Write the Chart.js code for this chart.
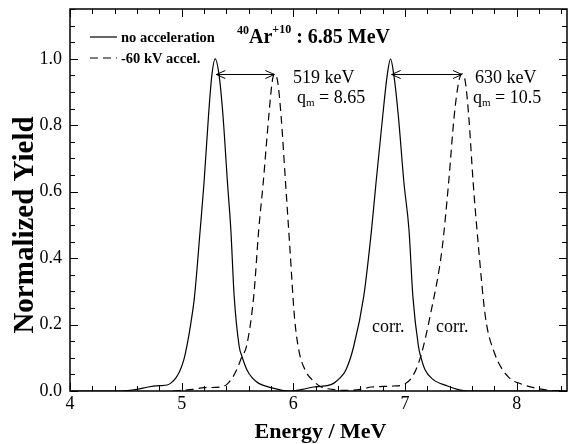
<!DOCTYPE html>
<html>
<head>
<meta charset="utf-8">
<title>40Ar+10 energy spectra</title>
<script src="https://cdn.jsdelivr.net/npm/chart.js@4.4.0/dist/chart.umd.min.js"></script>
<style>
  body { margin: 0; background: #fff; }
  #yield-chart { display: block; }
</style>
</head>
<body>
<canvas id="yield-chart" width="569" height="444"></canvas>
<script>
'use strict'

// Energy (MeV) and normalized yield
var noAccelEnergy = [4.0, 4.45, 4.6, 4.7, 4.8, 4.87, 4.9, 4.95, 4.987, 5.02, 5.046, 5.08, 5.115, 5.166, 5.2, 5.24, 5.27, 5.3, 5.335, 5.37, 5.41, 5.44, 5.47, 5.515, 5.54, 5.585, 5.63, 5.69, 5.8, 5.9, 5.97, 6.08, 6.18, 6.25, 6.3, 6.36, 6.42, 6.47, 6.54, 6.63, 6.7, 6.74, 6.8, 6.84, 6.87, 6.9, 6.94, 6.99, 7.035, 7.07, 7.12, 7.14, 7.18, 7.25, 7.38, 7.47, 7.56, 8.45]
var noAccelYield = [0, 0, 0.005, 0.012, 0.016, 0.018, 0.023, 0.04, 0.063, 0.095, 0.134, 0.2, 0.285, 0.486, 0.627, 0.828, 0.95, 1.0, 0.95, 0.828, 0.627, 0.486, 0.285, 0.134, 0.104, 0.063, 0.04, 0.023, 0.01, 0.002, 0, 0.005, 0.012, 0.014, 0.016, 0.023, 0.04, 0.063, 0.134, 0.285, 0.486, 0.627, 0.828, 0.95, 1.0, 0.95, 0.828, 0.627, 0.486, 0.285, 0.134, 0.104, 0.063, 0.035, 0.015, 0.005, 0, 0]

var accelEnergy = [4.92, 5.1, 5.2, 5.35, 5.405, 5.46, 5.5, 5.54, 5.58, 5.645, 5.69, 5.73, 5.78, 5.81, 5.83, 5.86, 5.89, 5.93, 5.97, 6.01, 6.05, 6.11, 6.18, 6.25, 6.35, 6.45, 6.6, 6.7, 6.9, 6.99, 7.065, 7.14, 7.23, 7.33, 7.39, 7.44, 7.48, 7.51, 7.54, 7.57, 7.61, 7.66, 7.72, 7.8, 7.92, 8.05, 8.15, 8.27, 8.4]
var accelYield = [0, 0.005, 0.01, 0.012, 0.02, 0.043, 0.07, 0.104, 0.134, 0.285, 0.486, 0.627, 0.828, 0.93, 0.955, 0.93, 0.828, 0.627, 0.424, 0.222, 0.121, 0.06, 0.03, 0.012, 0.005, 0.002, 0.005, 0.012, 0.015, 0.02, 0.043, 0.104, 0.235, 0.424, 0.627, 0.828, 0.93, 0.955, 0.93, 0.828, 0.627, 0.424, 0.222, 0.115, 0.044, 0.02, 0.01, 0.003, 0]

// Shift arrows: start (no accel. peak) -> end (accel. peak) at a given yield
var arrowStart = [5.31, 6.88]
var arrowEnd = [5.83, 7.51]
var arrowYield = 0.955

var xTicks = [4, 5, 6, 7, 8]
var yTicks = [0.0, 0.2, 0.4, 0.6, 0.8, 1.0]

var serif = '"Liberation Serif", "Times New Roman", serif'

function toPoints(xs, ys) {
  return xs.map(function (x, i) { return { x: x, y: ys[i] } })
}

// frame, inward ticks, arrows and all the annotation text
var annotatePlugin = {
  id: 'annotate',
  afterDraw: function (chart) {
    var ctx = chart.ctx
    var area = chart.chartArea
    var xs = chart.scales.x
    var ys = chart.scales.y
    var i, v, p, len

    ctx.save()
    ctx.strokeStyle = '#000'
    ctx.fillStyle = '#000'

    // frame
    ctx.lineWidth = 1.5
    ctx.strokeRect(area.left, area.top, area.right - area.left, area.bottom - area.top)

    // ticks pointing inside, on all four sides
    ctx.lineWidth = 1
    ctx.beginPath()
    for (i = 0; i <= 22; i++) {
      v = 4 + i * 0.2
      p = Math.round(xs.getPixelForValue(v)) + 0.5
      len = (i % 5 === 0) ? 8 : 5
      ctx.moveTo(p, area.bottom); ctx.lineTo(p, area.bottom - len)
      ctx.moveTo(p, area.top); ctx.lineTo(p, area.top + len)
    }
    for (i = 0; i <= 23; i++) {
      v = i * 0.05
      p = Math.round(ys.getPixelForValue(v)) + 0.5
      len = (i % 4 === 0) ? 8 : 5
      ctx.moveTo(area.left, p); ctx.lineTo(area.left + len, p)
      ctx.moveTo(area.right, p); ctx.lineTo(area.right - len, p)
    }
    ctx.stroke()

    // double headed arrows between the peaks
    var ay = Math.round(ys.getPixelForValue(arrowYield)) + 0.5
    for (i = 0; i < arrowStart.length; i++) {
      var x1 = xs.getPixelForValue(arrowStart[i])
      var x2 = xs.getPixelForValue(arrowEnd[i])
      ctx.beginPath()
      ctx.moveTo(x1, ay); ctx.lineTo(x2, ay)
      ctx.moveTo(x1 + 9, ay - 4); ctx.lineTo(x1, ay); ctx.lineTo(x1 + 9, ay + 4)
      ctx.moveTo(x2 - 9, ay - 4); ctx.lineTo(x2, ay); ctx.lineTo(x2 - 9, ay + 4)
      ctx.stroke()
    }

    // legend
    ctx.lineWidth = 1.2
    ctx.beginPath()
    ctx.moveTo(90, 37); ctx.lineTo(117, 37)
    ctx.stroke()
    ctx.setLineDash([8, 5])
    ctx.beginPath()
    ctx.moveTo(90, 58); ctx.lineTo(117, 58)
    ctx.stroke()
    ctx.setLineDash([])

    ctx.textBaseline = 'alphabetic'
    ctx.textAlign = 'left'
    ctx.font = 'bold 14.5px ' + serif
    ctx.fillText('no acceleration', 121, 42)
    ctx.fillText('-60 kV accel.', 121, 63)

    // title with superscripts
    var tx = 237
    ctx.font = 'bold 12px ' + serif
    ctx.fillText('40', tx, 34)
    tx += ctx.measureText('40').width
    ctx.font = 'bold 20px ' + serif
    ctx.fillText('Ar', tx, 43)
    tx += ctx.measureText('Ar').width
    ctx.font = 'bold 12px ' + serif
    ctx.fillText('+10', tx, 33)
    tx += ctx.measureText('+10').width
    ctx.font = 'bold 20px ' + serif
    ctx.fillText(' : 6.85 MeV', tx, 43)

    // shift labels
    ctx.font = '18px ' + serif
    ctx.fillText('519 keV', 293, 83)
    ctx.fillText('630 keV', 475, 83)
    drawQm(ctx, '8.65', 297, 103)
    drawQm(ctx, '10.5', 473, 103)
    ctx.font = '18px ' + serif
    ctx.fillText('corr.', 372, 332)
    ctx.fillText('corr.', 436, 332)

    // axis titles
    ctx.textAlign = 'center'
    ctx.font = 'bold 22px ' + serif
    ctx.fillText('Energy / MeV', (area.left + area.right) / 2 + 2, 438)
    ctx.translate(33, 225)
    ctx.rotate(-Math.PI / 2)
    ctx.font = 'bold 29px ' + serif
    ctx.fillText('Normalized Yield', 0, 0)

    ctx.restore()
  }
}

function drawQm(ctx, value, x, y) {
  ctx.textAlign = 'left'
  ctx.font = '18px ' + serif
  ctx.fillText('q', x, y)
  x += ctx.measureText('q').width
  ctx.font = '11px ' + serif
  ctx.fillText('m', x, y + 3)
  x += ctx.measureText('m').width
  ctx.font = '18px ' + serif
  ctx.fillText(' = ' + value, x, y)
}

var yieldChartCanvas = document.getElementById('yield-chart').getContext('2d')

var yieldChart = new Chart(yieldChartCanvas, {
  type: 'scatter',
  data: {
    datasets: [
      {
        label: 'no acceleration',
        data: toPoints(noAccelEnergy, noAccelYield),
        showLine: true,
        borderColor: '#000',
        borderWidth: 1.2,
        pointRadius: 0,
        cubicInterpolationMode: 'monotone',
        fill: false
      },
      {
        label: '-60 kV accel.',
        data: toPoints(accelEnergy, accelYield),
        showLine: true,
        borderColor: '#000',
        borderWidth: 1.2,
        borderDash: [8, 5],
        pointRadius: 0,
        cubicInterpolationMode: 'monotone',
        fill: false
      }
    ]
  },
  options: {
    responsive: false,
    animation: false,
    layout: { padding: { top: 9, right: 2, left: 0, bottom: 0 } },
    plugins: {
      legend: { display: false },
      tooltip: { enabled: false }
    },
    scales: {
      x: {
        type: 'linear',
        min: 4,
        max: 8.45,
        grid: { display: false, drawTicks: false },
        border: { display: false },
        afterBuildTicks: function (scale) {
          scale.ticks = xTicks.map(function (v) { return { value: v } })
        },
        afterFit: function (scale) {
          scale.height = 53
          scale.paddingLeft = 0
          scale.paddingRight = 0
        },
        ticks: {
          padding: 2,
          color: '#000',
          font: { family: serif, size: 18 },
          maxRotation: 0,
          callback: function (v) { return String(v) }
        }
      },
      y: {
        min: 0,
        max: 1.15,
        grid: { display: false, drawTicks: false },
        border: { display: false },
        afterBuildTicks: function (scale) {
          scale.ticks = yTicks.map(function (v) { return { value: v } })
        },
        afterFit: function (scale) {
          scale.width = 70
          scale.paddingTop = 0
          scale.paddingBottom = 0
        },
        ticks: {
          padding: 8,
          color: '#000',
          font: { family: serif, size: 18 },
          callback: function (v) { return Number(v).toFixed(1) }
        }
      }
    }
  },
  plugins: [annotatePlugin]
})
</script>
</body>
</html>
